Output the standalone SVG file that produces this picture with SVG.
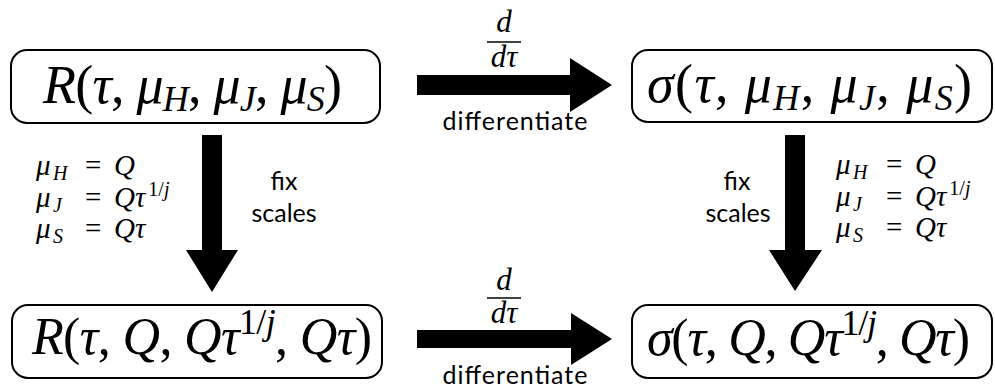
<svg xmlns="http://www.w3.org/2000/svg" width="995" height="389" viewBox="0 0 995 389">
<style>
.box{fill:#fff;stroke:#000;stroke-width:2}
.arr{fill:#000}
.sans{font-family:Lato,"Open Sans","Liberation Sans",sans-serif;font-size:25px;font-style:normal}
</style>
<rect width="995" height="389" fill="#fff"/>
<g id="connectors">
  <polygon class="arr" points="417,75 570,75 570,58 612,85 570,112 570,95 417,95"/>
  <polygon class="arr" points="417,330 571,330 571,313 612,339 571,365 571,348 417,348"/>
  <polygon class="arr" points="202,135 222,135 222,250 238,250 212,292 186,250 202,250"/>
  <polygon class="arr" points="785,135 805,135 805,250 822,250 795,291 769,250 785,250"/>
  <g id="label-top" font-family="'Liberation Serif', serif" font-style="italic" font-size="31">
    <text x="504" y="32" text-anchor="middle">d</text>
    <line x1="487" y1="42" x2="521" y2="42" stroke="#000" stroke-width="1.3"/>
    <text x="504" y="67" text-anchor="middle">dτ</text>
    <text class="sans" x="515" y="130" text-anchor="middle" textLength="145">differentiate</text>
  </g>
  <g id="label-bottom" font-family="'Liberation Serif', serif" font-style="italic" font-size="31">
    <text x="504" y="290" text-anchor="middle">d</text>
    <line x1="487" y1="298" x2="521" y2="298" stroke="#000" stroke-width="1.3"/>
    <text x="504" y="323" text-anchor="middle">dτ</text>
    <text class="sans" x="515" y="384" text-anchor="middle" textLength="145">differentiate</text>
  </g>
  <g id="label-left" font-family="'Liberation Serif', serif" font-size="29">
    <text class="sans" x="284" y="190" text-anchor="middle">fix</text>
    <text class="sans" x="284" y="222" text-anchor="middle" textLength="65">scales</text>
    <text y="175"><tspan x="36" font-style="italic">μ</tspan><tspan x="53" dy="5" font-size="20" font-style="italic">H</tspan><tspan x="85" dy="-5">=</tspan><tspan x="114" font-style="italic">Q</tspan></text>
    <text y="207"><tspan x="36" font-style="italic">μ</tspan><tspan x="53" dy="5" font-size="20" font-style="italic">J</tspan><tspan x="85" dy="-5">=</tspan><tspan x="114" font-style="italic">Qτ</tspan><tspan dx="3" dy="-11" font-size="20">1/<tspan font-style="italic">j</tspan></tspan></text>
    <text y="238"><tspan x="36" font-style="italic">μ</tspan><tspan x="53" dy="5" font-size="20" font-style="italic">S</tspan><tspan x="85" dy="-5">=</tspan><tspan x="114" font-style="italic">Qτ</tspan></text>
  </g>
  <g id="label-right" font-family="'Liberation Serif', serif" font-size="29">
    <text class="sans" x="737" y="190" text-anchor="middle">fix</text>
    <text class="sans" x="738" y="222" text-anchor="middle" textLength="65">scales</text>
    <text y="174"><tspan x="836" font-style="italic">μ</tspan><tspan x="853" dy="5" font-size="20" font-style="italic">H</tspan><tspan x="886" dy="-5">=</tspan><tspan x="915" font-style="italic">Q</tspan></text>
    <text y="206"><tspan x="836" font-style="italic">μ</tspan><tspan x="853" dy="5" font-size="20" font-style="italic">J</tspan><tspan x="886" dy="-5">=</tspan><tspan x="915" font-style="italic">Qτ</tspan><tspan dx="3" dy="-11" font-size="20">1/<tspan font-style="italic">j</tspan></tspan></text>
    <text y="237"><tspan x="836" font-style="italic">μ</tspan><tspan x="853" dy="5" font-size="20" font-style="italic">S</tspan><tspan x="886" dy="-5">=</tspan><tspan x="915" font-style="italic">Qτ</tspan></text>
  </g>
</g>
<g id="node-R" font-family="'Liberation Serif', serif" font-size="54">
  <rect class="box" x="11" y="50" width="369" height="73" rx="16"/>
  <text x="43" y="103" textLength="299"><tspan font-style="italic">R</tspan>(<tspan font-style="italic">τ</tspan>, <tspan font-style="italic">μ</tspan><tspan font-style="italic" font-size="36" dy="8">H</tspan><tspan dy="-8">, </tspan><tspan font-style="italic">μ</tspan><tspan font-style="italic" font-size="36" dy="8">J</tspan><tspan dy="-8">, </tspan><tspan font-style="italic">μ</tspan><tspan font-style="italic" font-size="36" dy="8">S</tspan><tspan dy="-8">)</tspan></text>
</g>
<g id="node-sigma" font-family="'Liberation Serif', serif" font-size="54">
  <rect class="box" x="632" y="50" width="360" height="72" rx="16"/>
  <text x="647" y="102" textLength="325"><tspan font-style="italic">σ</tspan>(<tspan font-style="italic">τ</tspan>, <tspan font-style="italic">μ</tspan><tspan font-style="italic" font-size="36" dy="8">H</tspan><tspan dy="-8">, </tspan><tspan font-style="italic">μ</tspan><tspan font-style="italic" font-size="36" dy="8">J</tspan><tspan dy="-8">, </tspan><tspan font-style="italic">μ</tspan><tspan font-style="italic" font-size="36" dy="8">S</tspan><tspan dy="-8">)</tspan></text>
</g>
<g id="node-R-fixed" font-family="'Liberation Serif', serif" font-size="52">
  <rect class="box" x="12" y="305" width="370" height="73" rx="16"/>
  <text x="32" y="354" textLength="340"><tspan font-style="italic">R</tspan>(<tspan font-style="italic">τ</tspan>, <tspan font-style="italic">Q</tspan>, <tspan font-style="italic">Qτ</tspan><tspan font-size="36" dy="-20">1/</tspan><tspan font-style="italic" font-size="36">j</tspan><tspan dy="20">, </tspan><tspan font-style="italic">Qτ</tspan>)</text>
</g>
<g id="node-sigma-fixed" font-family="'Liberation Serif', serif" font-size="52">
  <rect class="box" x="632" y="305" width="360" height="73" rx="16"/>
  <text x="647" y="355" textLength="323"><tspan font-style="italic">σ</tspan>(<tspan font-style="italic">τ</tspan>, <tspan font-style="italic">Q</tspan>, <tspan font-style="italic">Qτ</tspan><tspan font-size="36" dy="-20">1/</tspan><tspan font-style="italic" font-size="36">j</tspan><tspan dy="20">, </tspan><tspan font-style="italic">Qτ</tspan>)</text>
</g>
</svg>
